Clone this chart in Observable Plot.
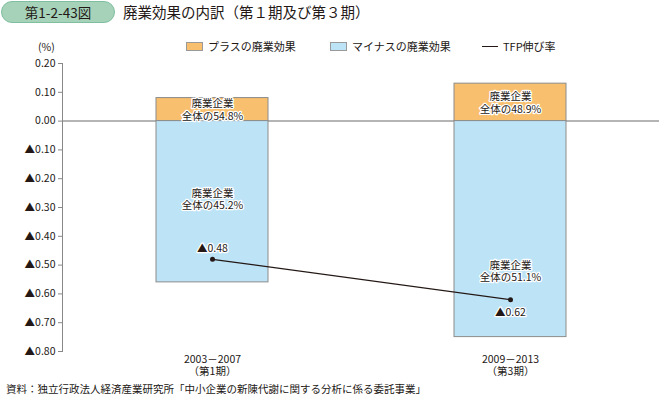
<!DOCTYPE html>
<html><head><meta charset="utf-8">
<script src="https://cdn.jsdelivr.net/npm/d3@7"></script>
<script src="https://cdn.jsdelivr.net/npm/@observablehq/plot@0.6"></script>
<style>
body{margin:0;width:660px;height:396px;position:relative;background:#fff;font-family:"Noto Sans CJK JP","Noto Sans",sans-serif;color:#231815;overflow:hidden}
.badge{position:absolute;left:1px;top:1px;width:114px;height:22px;border:1.5px solid #7fbf9f;background:#a5d2b9;border-radius:12px;font-size:13.5px;line-height:20px;text-align:center;box-sizing:border-box}
.title{position:absolute;left:123px;top:2px;font-size:14.5px;line-height:20px}
.leg{position:absolute;top:38px;font-size:11px;line-height:16px;display:flex;align-items:center}
.sw{display:inline-block;width:15px;height:7px;border:1px solid #999;margin-right:5px}
.ln{display:inline-block;width:16px;height:0;border-top:1.2px solid #231815;margin-right:5px}
.pct{position:absolute;left:38px;top:39px;font-size:10.5px}
#chart{position:absolute;left:0;top:55px}
.cap{position:absolute;left:6px;top:382px;font-size:10.5px;line-height:14px}
</style></head>
<body>
<div class="badge">第1-2-43図</div>
<div class="title">廃業効果の内訳（第１期及び第３期）</div>
<div class="leg" style="left:186px"><span class="sw" style="background:#f8bf6e"></span>プラスの廃業効果</div>
<div class="leg" style="left:330px"><span class="sw" style="background:#bde3f7"></span>マイナスの廃業効果</div>
<div class="leg" style="left:482px"><span class="ln"></span>TFP伸び率</div>
<div class="pct">(%)</div>
<div id="chart"></div>
<div class="cap">資料：独立行政法人経済産業研究所「中小企業の新陳代謝に関する分析に係る委託事業」</div>
<script>
const categories = ["2003－2007\n（第1期）", "2009－2013\n（第3期）"];
const plusEffect = [0.08, 0.13];
const minusEffect = [-0.56, -0.75];
const tfpGrowth = [-0.48, -0.62];
const plusLabels = ["廃業企業\n全体の54.8%", "廃業企業\n全体の48.9%"];
const minusLabels = ["廃業企業\n全体の45.2%", "廃業企業\n全体の51.1%"];
const minusLabelAt = [-0.27, -0.52];
const yTicks = [0.2, 0.1, 0, -0.1, -0.2, -0.3, -0.4, -0.5, -0.6, -0.7, -0.8];

const rows = categories.map((c, i) => ({
  cat: c, plus: plusEffect[i], minus: minusEffect[i], tfp: tfpGrowth[i],
  plusLabel: plusLabels[i], minusLabel: minusLabels[i], minusAt: minusLabelAt[i],
  tfpLabel: (tfpGrowth[i] < 0 ? "▲" : "") + Math.abs(tfpGrowth[i]).toFixed(2)
}));
const fmt = d => (d < -1e-9 ? "▲" : "") + Math.abs(d).toFixed(2);

const plot = Plot.plot({
  width: 660, height: 326,
  marginLeft: 62, marginRight: 1, marginTop: 8, marginBottom: 30,
  style: {fontFamily: '"Noto Sans CJK JP","Noto Sans",sans-serif', fontSize: "11px", color: "#231815", background: "transparent"},
  x: {domain: categories, paddingInner: 0.625, paddingOuter: 0.3125, label: null},
  y: {domain: [-0.8, 0.2], label: null},
  marks: [
    Plot.ruleY([0], {stroke: "#b5b5b5", strokeWidth: 2}),
    Plot.barY(rows, {x: "cat", y1: 0, y2: "plus", fill: "#f8bf6e", stroke: "#8c8c8c", strokeWidth: 1}),
    Plot.barY(rows, {x: "cat", y1: 0, y2: "minus", fill: "#bde3f7", stroke: "#8c8c8c", strokeWidth: 1}),
    Plot.text(rows, {x: "cat", y: d => d.plus / 2, text: "plusLabel", fill: "#231815", stroke: "white", strokeWidth: 2.5, lineHeight: 1.2, fontSize: 10.5}),
    Plot.text(rows, {x: "cat", y: "minusAt", text: "minusLabel", fill: "#231815", stroke: "white", strokeWidth: 2.5, lineHeight: 1.2, fontSize: 10.5}),
    Plot.line(rows, {x: "cat", y: "tfp", stroke: "#231815", strokeWidth: 1.2}),
    Plot.dot(rows, {x: "cat", y: "tfp", r: 2.5, fill: "#231815"}),
    Plot.text(rows, {filter: (d, i) => i === 0, x: "cat", y: "tfp", text: "tfpLabel", dy: -11, fill: "#231815", stroke: "white", strokeWidth: 2.5, fontSize: 10.5}),
    Plot.text(rows, {filter: (d, i) => i === 1, x: "cat", y: "tfp", text: "tfpLabel", dy: 13, fill: "#231815", stroke: "white", strokeWidth: 2.5, fontSize: 10.5}),
    Plot.axisY({ticks: yTicks, tickFormat: fmt, tickSize: 4, tickPadding: 3, stroke: "#888", fill: "#231815", fontSize: 10.5}),
    Plot.frame({anchor: "left", stroke: "#888"}),
    Plot.axisX({tickSize: 0, tickPadding: 3, lineHeight: 1.15, fill: "#231815", fontSize: 10.5})
  ]
});
document.getElementById("chart").appendChild(plot);
</script>
</body></html>
